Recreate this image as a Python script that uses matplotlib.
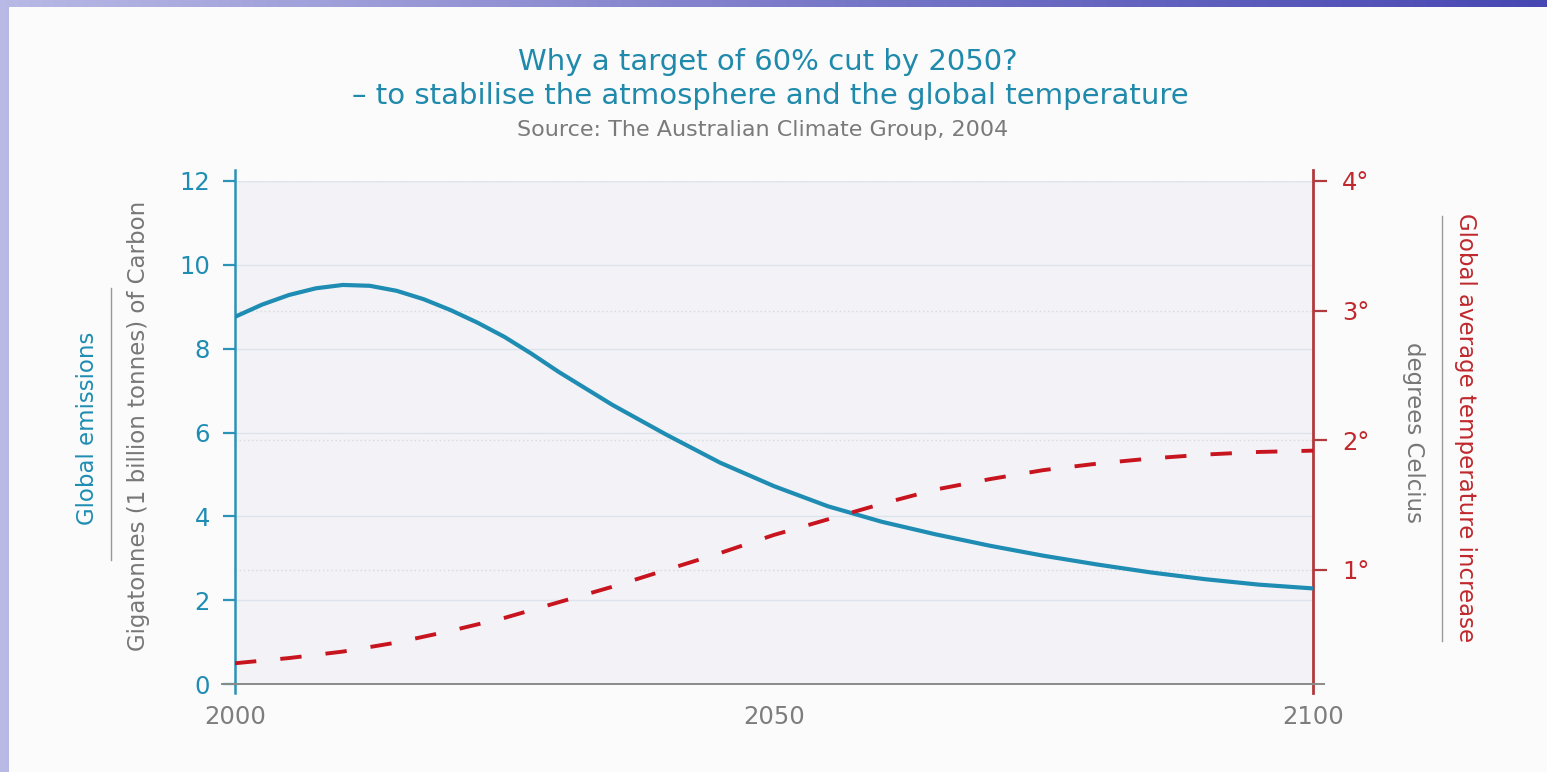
import numpy as np
import matplotlib
matplotlib.use("Agg")
import matplotlib.pyplot as plt
from matplotlib.colors import LinearSegmentedColormap
from matplotlib.patches import Rectangle

# emissions (GtC) and temperature rise (deg C)
years = [2000, 2002.5, 2005, 2007.5, 2010, 2012.5, 2015, 2017.5, 2020, 2022.5,
         2025, 2027.5, 2030, 2035, 2040, 2045, 2050, 2055, 2060, 2065, 2070,
         2075, 2080, 2085, 2090, 2095, 2100]
emissions = [8.76, 9.05, 9.28, 9.44, 9.52, 9.50, 9.38, 9.18, 8.92, 8.62,
             8.28, 7.88, 7.45, 6.66, 5.95, 5.28, 4.72, 4.24, 3.87, 3.57, 3.30,
             3.06, 2.85, 2.66, 2.50, 2.37, 2.28]
temperature = [0.28, 0.30, 0.32, 0.345, 0.37, 0.405, 0.44, 0.485, 0.53, 0.58,
               0.63, 0.69, 0.75, 0.87, 1.00, 1.13, 1.27, 1.39, 1.51, 1.62, 1.70,
               1.77, 1.82, 1.86, 1.89, 1.91, 1.92]

x_ticks = [2000, 2050, 2100]
left_ticks = [0, 2, 4, 6, 8, 10, 12]
right_ticks = [1, 2, 3, 4]
right_labels = ["1°", "2°", "3°", "4°"]

TEAL = "#1f8db3"
RED = "#c8141e"
DARKRED = "#b13a3c"
GRAY = "#7d7d7d"

W, H = 1547, 772
fig = plt.figure(figsize=(W / 100, H / 100), dpi=100)

# slide background: lavender to blue gradient with a white panel on top
bg = fig.add_axes([0, 0, 1, 1], zorder=-10)
cmap = LinearSegmentedColormap.from_list("slide", ["#b9b9e6", "#7c7cca", "#4747b3"])
bg.imshow(np.linspace(0, 1, 256)[None, :], aspect="auto", cmap=cmap,
          extent=[0, 1, 0, 1])
bg.add_patch(Rectangle((9 / W, 0), 1, 1 - 7 / H, color="#fbfbfb", lw=0))
bg.set_xlim(0, 1)
bg.set_ylim(0, 1)
bg.axis("off")

ax = fig.add_axes([235 / W, 1 - 684 / H, (1313 - 235) / W, (684 - 181) / H])
ax2 = ax.twinx()
# right axis sits underneath so both curves stay above every grid line
ax.set_zorder(ax2.get_zorder() + 1)
ax.patch.set_visible(False)
ax2.patch.set_visible(True)
ax2.set_facecolor("#f3f3f7")

ax.set_xlim(2000, 2100)
ax.set_ylim(0, 12)
ax2.set_ylim(0.12, 4)

ax.plot(years, emissions, color=TEAL, lw=3.0, solid_joinstyle="round", zorder=3)
ax.plot(years, temperature, color=RED, lw=2.8, dashes=(5.5, 6.2), zorder=4,
        transform=ax2.transData)
ax.set_xlim(2000, 2100)
ax.set_ylim(0, 12)

ax.set_xticks(x_ticks)
ax.set_xticklabels([str(y) for y in x_ticks])
ax.set_yticks(left_ticks)
ax2.set_yticks(right_ticks)
ax2.set_yticklabels(right_labels)

ax.yaxis.grid(True, color="#dde3ea", lw=1)
ax2.yaxis.grid(True, color="#d9d9dd", lw=1, linestyle=(0, (1, 2)))
ax.set_axisbelow(True)

ax.spines["top"].set_visible(False)
for s in ["top", "left", "bottom", "right"]:
    ax2.spines[s].set_visible(False)
ax.spines["left"].set_color("#2a93b7")
ax.spines["left"].set_linewidth(1.8)
ax.spines["left"].set_bounds(-0.21, 12.26)
ax.spines["right"].set_color(DARKRED)
ax.spines["right"].set_linewidth(2.0)
ax.spines["right"].set_bounds(-0.21, 12.26)
ax.spines["bottom"].set_color("#8a8a8a")
ax.spines["bottom"].set_linewidth(1.4)
ax.spines["bottom"].set_bounds(1998.8, 2101)

ax.tick_params(axis="y", direction="out", length=9, width=1.6, color="#2a93b7",
               labelcolor=TEAL, labelsize=17.5, pad=9)
ax.tick_params(axis="x", direction="out", length=0, labelcolor=GRAY,
               labelsize=17.5, pad=15)
ax2.tick_params(axis="y", direction="out", length=10, width=1.6, color=DARKRED,
                labelcolor="#c0282d", labelsize=17.5, pad=11)

# titles
fig.text(768 / W, 1 - 62 / H, "Why a target of 60% cut by 2050?",
         ha="center", va="center", color="#1f8aab", fontsize=21)
fig.text(770 / W, 1 - 96 / H,
         "\u2013 to stabilise the atmosphere and the global temperature",
         ha="center", va="center", color="#1f8aab", fontsize=21)
fig.text(763 / W, 1 - 130 / H, "Source: The Australian Climate Group, 2004",
         ha="center", va="center", color="#7a7a7a", fontsize=16)

# left axis titles with separator line
fig.text(88 / W, 1 - 428 / H, "Global emissions", rotation=90,
         ha="center", va="center", color=TEAL, fontsize=16.5)
fig.text(138 / W, 1 - 426 / H, "Gigatonnes (1 billion tonnes) of Carbon",
         rotation=90, ha="center", va="center", color="#777777", fontsize=16.5)
fig.add_artist(plt.Line2D([111 / W, 111 / W], [1 - 288 / H, 1 - 560 / H],
                          color="#9a9a9a", lw=1))

# right axis titles with separator line
fig.text(1466 / W, 1 - 428 / H, "Global average temperature increase",
         rotation=-90, ha="center", va="center", color="#c0282d", fontsize=16.5)
fig.text(1413 / W, 1 - 432 / H, "degrees Celcius", rotation=-90,
         ha="center", va="center", color="#777777", fontsize=16.5)
fig.add_artist(plt.Line2D([1442 / W, 1442 / W], [1 - 216 / H, 1 - 641 / H],
                          color="#9a9a9a", lw=1))

fig.savefig("out.png", dpi=100)
